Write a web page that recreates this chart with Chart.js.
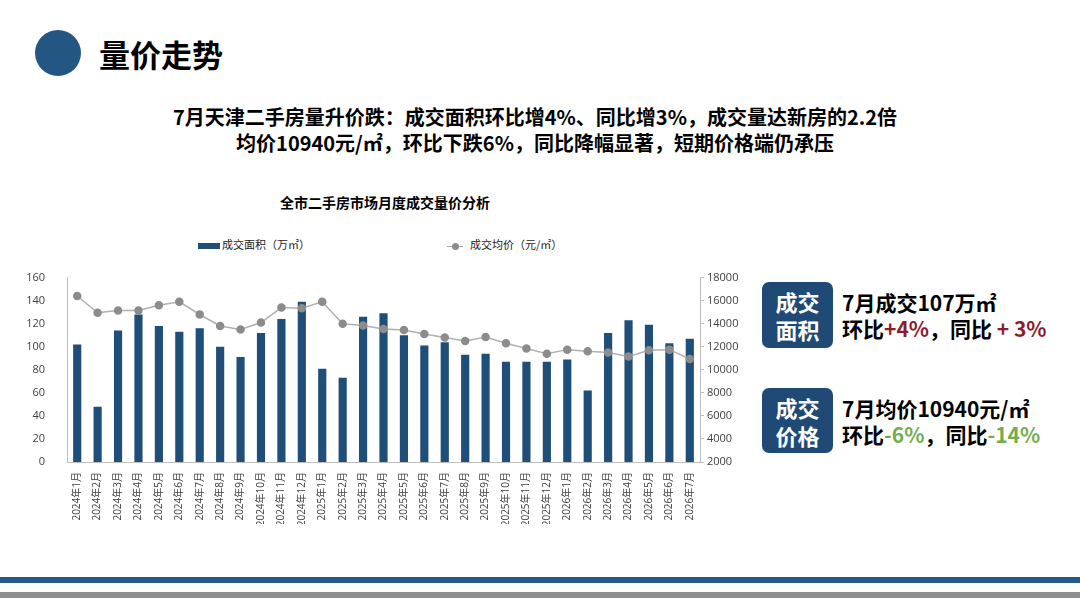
<!DOCTYPE html>
<html>
<head>
<meta charset="utf-8">
<script src="https://cdn.jsdelivr.net/npm/chart.js@4"></script>
<style>
  html, body { margin: 0; padding: 0; background: #fff; }
  body { width: 1080px; height: 608px; position: relative; overflow: hidden;
         font-family: "Noto Sans CJK SC", "Liberation Sans", sans-serif; color: #000; }
  .abs { position: absolute; }
  #dot { left: 35px; top: 30px; width: 46px; height: 46px; border-radius: 50%; background: #245684; }
  #head { left: 99px; top: 33px; font-size: 31px; font-weight: bold; line-height: 42px; }
  .sub { left: 0; width: 1070px; text-align: center; font-size: 20px; font-weight: bold; line-height: 26px; }
  #ctitle { left: 180px; width: 410px; top: 192px; text-align: center; font-size: 14px; font-weight: bold; line-height: 20px; }
  .leg { top: 236px; font-size: 11px; line-height: 16px; color: #222; }
  .sw { display: inline-block; vertical-align: middle; }
  .box { left: 762px; width: 71px; background: #1f4a75; border-radius: 7px; color: #fff;
         font-size: 22px; font-weight: bold; line-height: 28px; text-align: center; padding-top: 5px; }
  .kt { left: 842px; font-size: 21px; font-weight: bold; line-height: 26px; }
  .red { color: #8e1b2c; }
  .grn { color: #73ad4c; }
  #chartbox { left: 20px; top: 257px; width: 727px; height: 267px; }
  #line1 { left: 0; top: 577px; width: 1080px; height: 6px; background: #265a8b; }
  #line2 { left: 0; top: 592px; width: 1080px; height: 6px; background: #8e8e8e; }
</style>
</head>
<body>
<div id="dot" class="abs"></div>
<div id="head" class="abs">量价走势</div>
<div class="abs sub" style="top:104px">7月天津二手房量升价跌：成交面积环比增4%、同比增3%，成交量达新房的2.2倍</div>
<div class="abs sub" style="top:130px">均价10940元/㎡，环比下跌6%，同比降幅显著，短期价格端仍承压</div>

<div id="ctitle" class="abs">全市二手房市场月度成交量价分析</div>
<div class="abs leg" style="left:198px"><span class="sw" style="width:22px;height:6px;background:#1f4e79;margin-right:2px"></span>成交面积（万㎡）</div>
<div class="abs leg" style="left:447px"><span class="sw" style="position:relative;width:16px;height:1px;background:#a6a6a6;margin-right:7px"><span style="position:absolute;left:5px;top:-3px;width:7px;height:7px;border-radius:50%;background:#8c8c8c"></span></span>成交均价（元/㎡）</div>

<div id="chartbox" class="abs"><canvas id="chart"></canvas></div>

<div class="abs box" style="top:282px;height:61px">成交<br>面积</div>
<div class="abs kt" style="top:289px">7月成交107万㎡</div>
<div class="abs kt" style="top:315px">环比<span class="red">+4%</span>，同比<span class="red"> + 3%</span></div>

<div class="abs box" style="top:388px;height:60px">成交<br>价格</div>
<div class="abs kt" style="top:395px">7月均价10940元/㎡</div>
<div class="abs kt" style="top:421px">环比<span class="grn">-6%</span>，同比<span class="grn">-14%</span></div>

<div id="line1" class="abs"></div>
<div id="line2" class="abs"></div>

<script>
"use strict";

var months = [
    "2024年1月", "2024年2月", "2024年3月", "2024年4月", "2024年5月", "2024年6月",
    "2024年7月", "2024年8月", "2024年9月", "2024年10月", "2024年11月", "2024年12月",
    "2025年1月", "2025年2月", "2025年3月", "2025年4月", "2025年5月", "2025年6月",
    "2025年7月", "2025年8月", "2025年9月", "2025年10月", "2025年11月", "2025年12月",
    "2026年1月", "2026年2月", "2026年3月", "2026年4月", "2026年5月", "2026年6月", "2026年7月"
];

// 成交面积（万㎡）
var area = [
    102, 48, 114, 128, 118, 113, 116, 100, 91, 112, 124, 139,
    81, 73, 126, 129, 110, 101, 104, 93, 94, 87, 87, 87,
    89, 62, 112, 123, 119, 103, 107
];

// 成交均价（元/㎡）
var price = [
    16400, 14950, 15150, 15150, 15600, 15900, 14800, 13800, 13500, 14100, 15400, 15350,
    15900, 14000, 13850, 13550, 13450, 13100, 12800, 12500, 12850, 12300, 11850, 11400,
    11750, 11600, 11500, 11150, 11700, 11750, 10940
];

var tickFont = { family: "'Open Sans', 'Noto Sans CJK SC', sans-serif", size: 11 };

var ctx = document.getElementById("chart").getContext("2d");

var myChart = new Chart(ctx, {
    type: "bar",
    data: {
        labels: months,
        datasets: [
            {
                type: "line",
                label: "成交均价（元/㎡）",
                data: price,
                yAxisID: "y1",
                borderColor: "#b0b0b0",
                borderWidth: 1.5,
                pointBackgroundColor: "#8c8c8c",
                pointBorderColor: "#8c8c8c",
                pointRadius: 3.5,
                tension: 0,
                order: 0,
            },
            {
                label: "成交面积（万㎡）",
                data: area,
                yAxisID: "y",
                backgroundColor: "#1f4e79",
                categoryPercentage: 1,
                barPercentage: 0.4,
                order: 1,
            },
        ],
    },
    options: {
        responsive: true,
        maintainAspectRatio: false,
        animation: false,
        layout: { padding: { top: 8, right: 0, left: 0, bottom: 0 } },
        plugins: {
            legend: { display: false },
            title: { display: false },
            tooltip: { enabled: false },
        },
        scales: {
            x: {
                grid: { display: false },
                border: { color: "#bfbfbf" },
                ticks: {
                    font: { family: tickFont.family, size: 10 },
                    color: "#404040",
                    minRotation: 90,
                    maxRotation: 90,
                    autoSkip: false,
                    padding: 2,
                },
                afterFit: function (axis) { axis.height = 62; },
            },
            y: {
                position: "left",
                min: 0,
                max: 160,
                ticks: { stepSize: 20, font: tickFont, color: "#404040", padding: 14 },
                grid: { display: false },
                border: { color: "#bfbfbf" },
                afterFit: function (axis) { axis.width = 47; },
            },
            y1: {
                position: "right",
                min: 2000,
                max: 18000,
                ticks: {
                    stepSize: 2000, font: tickFont, color: "#404040", padding: 3,
                    callback: function (v) { return String(v); },
                },
                grid: { drawOnChartArea: false, drawTicks: true, tickLength: 4, color: "#bfbfbf" },
                border: { color: "#bfbfbf" },
                afterFit: function (axis) { axis.width = 47; },
            },
        },
    }
});
</script>
</body>
</html>
